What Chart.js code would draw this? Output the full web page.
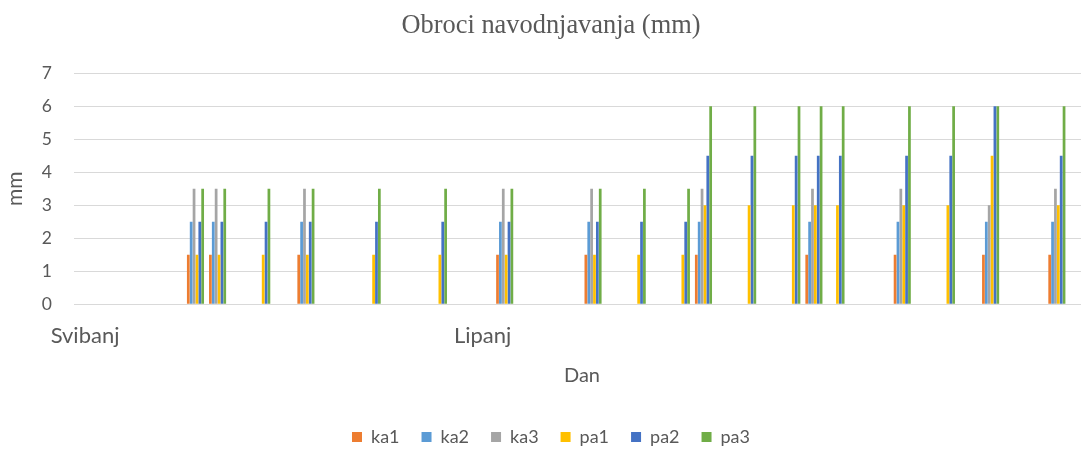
<!DOCTYPE html>
<html>
<head>
<meta charset="utf-8">
<script src="https://cdn.jsdelivr.net/npm/chart.js@4"></script>
<style>
  html, body { margin: 0; padding: 0; background: #fff; overflow: hidden; }
  #wrap { width: 1081px; height: 456px; overflow: hidden; }
</style>
</head>
<body>
<div id="wrap"><canvas id="chart" width="1102" height="456"></canvas></div>
<script>
// one category per slot on the date axis, only two of them carry a month name
const days = [
    'Svibanj', '', '', '', '', '', '', '', '', '',
    '', '', '', '', '', '', '', '', 'Lipanj', '',
    '', '', '', '', '', '', '', '', '', '',
    '', '', '', '', '', '', '', '', '', '',
    '', '', '', '', '', '',
];

const ka1 = [
    null, null, null, null, null, 1.5, 1.5, null, null, null,
    1.5, null, null, null, null, null, null, null, null, 1.5,
    null, null, null, 1.5, null, null, null, null, 1.5, null,
    null, null, null, 1.5, null, null, null, 1.5, null, null,
    null, 1.5, null, null, 1.5, null,
];
const ka2 = [
    null, null, null, null, null, 2.5, 2.5, null, null, null,
    2.5, null, null, null, null, null, null, null, null, 2.5,
    null, null, null, 2.5, null, null, null, null, 2.5, null,
    null, null, null, 2.5, null, null, null, 2.5, null, null,
    null, 2.5, null, null, 2.5, null,
];
const ka3 = [
    null, null, null, null, null, 3.5, 3.5, null, null, null,
    3.5, null, null, null, null, null, null, null, null, 3.5,
    null, null, null, 3.5, null, null, null, null, 3.5, null,
    null, null, null, 3.5, null, null, null, 3.5, null, null,
    null, 3, null, null, 3.5, null,
];
const pa1 = [
    null, null, null, null, null, 1.5, 1.5, null, 1.5, null,
    1.5, null, null, 1.5, null, null, 1.5, null, null, 1.5,
    null, null, null, 1.5, null, 1.5, null, 1.5, 3, null,
    3, null, 3, 3, 3, null, null, 3, null, 3,
    null, 4.5, null, null, 3, null,
];
const pa2 = [
    null, null, null, null, null, 2.5, 2.5, null, 2.5, null,
    2.5, null, null, 2.5, null, null, 2.5, null, null, 2.5,
    null, null, null, 2.5, null, 2.5, null, 2.5, 4.5, null,
    4.5, null, 4.5, 4.5, 4.5, null, null, 4.5, null, 4.5,
    null, 6, null, null, 4.5, null,
];
const pa3 = [
    null, null, null, null, null, 3.5, 3.5, null, 3.5, null,
    3.5, null, null, 3.5, null, null, 3.5, null, null, 3.5,
    null, null, null, 3.5, null, 3.5, null, 3.5, 6, null,
    6, null, 6, 6, 6, null, null, 6, null, 6,
    null, 6, null, null, 6, null,
];

const seriesNames = ['ka1', 'ka2', 'ka3', 'pa1', 'pa2', 'pa3'];
const seriesData = [ka1, ka2, ka3, pa1, pa2, pa3];
const seriesColors = ['#ED7D31', '#5B9BD5', '#A5A5A5', '#FFC000', '#4472C4', '#70AD47'];

const grey = '#595959';
const gridGrey = '#d9d9d9';

Chart.defaults.font.family = 'Lato';
Chart.defaults.color = grey;

new Chart(document.getElementById('chart'), {
    type: 'bar',
    data: {
        labels: days,
        datasets: seriesNames.map((name, i) => ({
            label: name,
            data: seriesData[i],
            backgroundColor: seriesColors[i],
            borderWidth: 0,
            categoryPercentage: 0.78,
            barPercentage: 0.95,
        })),
    },
    options: {
        responsive: false,
        animation: false,
        // the original chart is wider than the picture, its right edge is cut off
        layout: { padding: { left: 12, right: 12, top: 0, bottom: 0 } },
        plugins: {
            title: {
                display: true,
                text: 'Obroci navodnjavanja (mm)',
                color: grey,
                font: { family: 'Liberation Serif', size: 26.4, weight: 'normal' },
                padding: { top: 9.9, bottom: 31.7 },
            },
            legend: {
                position: 'bottom',
                labels: {
                    boxWidth: 10,
                    boxHeight: 10,
                    padding: 22,
                    color: grey,
                    font: { size: 18 },
                },
            },
            tooltip: { enabled: false },
        },
        scales: {
            x: {
                afterFit: (scale) => { scale.height = 101.7; },
                grid: { display: false, drawTicks: false },
                border: { display: true, color: gridGrey, width: 1 },
                ticks: {
                    autoSkip: false,
                    maxRotation: 0,
                    padding: 18,
                    color: grey,
                    font: { size: 22 },
                },
                title: {
                    display: true,
                    text: 'Dan',
                    color: grey,
                    font: { size: 20 },
                    padding: { top: 0, bottom: 18.3 },
                },
            },
            y: {
                min: 0,
                max: 7,
                afterFit: (scale) => { scale.width = 62; },
                grid: { color: gridGrey, lineWidth: 1, drawTicks: false },
                border: { display: false },
                ticks: {
                    stepSize: 1,
                    padding: 22,
                    color: grey,
                    font: { size: 17.5 },
                },
                title: {
                    display: true,
                    text: 'mm',
                    color: grey,
                    font: { size: 21 },
                    padding: { top: -9.1, bottom: 0 },
                },
            },
        },
    },
});
</script>
</body>
</html>
